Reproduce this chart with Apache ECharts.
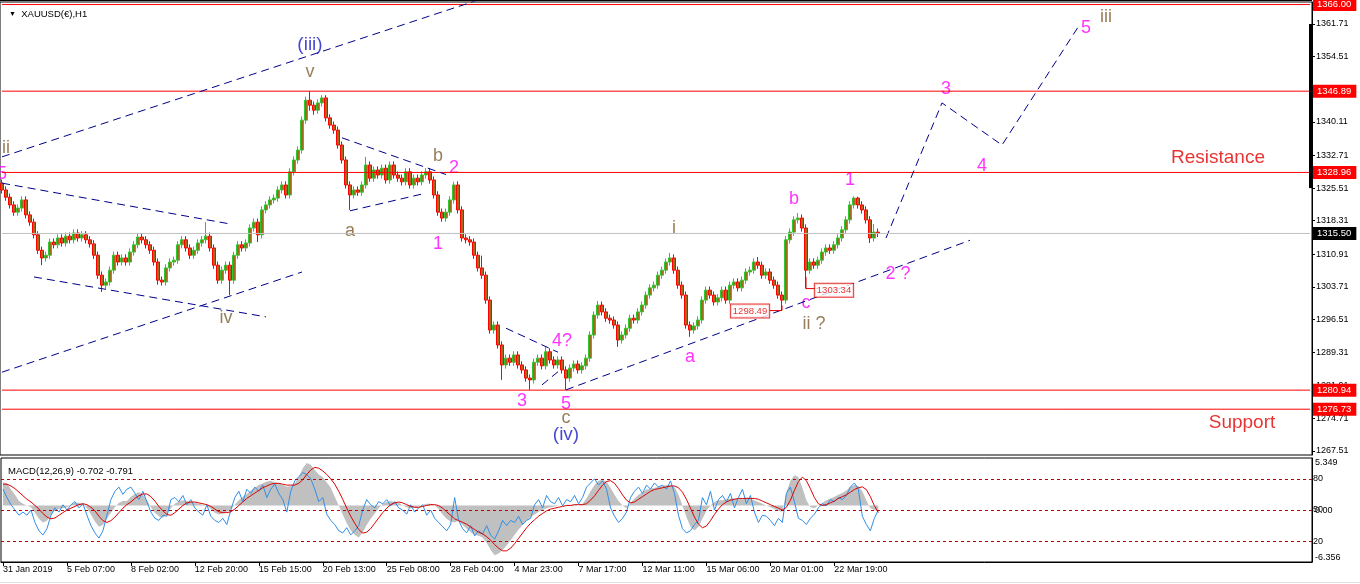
<!DOCTYPE html>
<html><head><meta charset="utf-8">
<script src="https://cdn.jsdelivr.net/npm/echarts@6/dist/echarts.min.js"></script>
<style>html,body{margin:0;padding:0;background:#fff}#c{width:1360px;height:584px}</style>
</head><body><div id="c"></div>
<script>
// ---- price data (one candle per 4 hours), [open, close, low, high]
const ohlc = [
[1326.6,1325.1,1324.3,1327.4],[1325.1,1323.5,1322.7,1325.9],[1323.5,1321.8,1321.0,1324.3],[1321.8,1320.2,1319.4,1322.6],[1320.2,1321.1,1319.4,1321.9],
[1321.1,1322.9,1320.3,1323.7],[1322.9,1319.6,1318.8,1323.7],[1319.6,1318.0,1317.2,1320.4],[1318.0,1315.2,1314.4,1318.8],[1315.2,1311.8,1311.0,1316.0],
[1311.8,1310.1,1308.5,1312.6],[1310.1,1310.7,1309.3,1311.5],[1310.7,1313.6,1309.9,1314.4],[1313.6,1313.0,1312.2,1314.4],[1313.0,1314.5,1312.2,1315.3],
[1314.5,1313.4,1312.6,1315.3],[1313.4,1314.9,1312.6,1315.7],[1314.9,1314.1,1313.3,1315.7],[1314.1,1315.6,1313.3,1316.4],[1315.6,1314.5,1313.7,1316.4],
[1314.5,1315.2,1313.7,1316.0],[1315.2,1314.1,1313.3,1316.0],[1314.1,1313.2,1312.4,1314.9],[1313.2,1310.7,1309.9,1314.0],[1310.7,1306.3,1305.5,1311.5],
[1306.3,1304.1,1302.6,1307.1],[1304.1,1304.8,1303.3,1305.6],[1304.8,1307.4,1304.0,1308.2],[1307.4,1310.7,1306.6,1311.5],[1310.7,1309.2,1308.4,1311.5],
[1309.2,1310.1,1308.4,1310.9],[1310.1,1309.2,1308.4,1310.9],[1309.2,1311.4,1308.4,1312.2],[1311.4,1313.0,1310.6,1313.8],[1313.0,1314.7,1312.2,1315.5],
[1314.7,1314.1,1313.3,1315.5],[1314.1,1313.0,1312.2,1314.9],[1313.0,1311.8,1311.0,1313.8],[1311.8,1309.2,1308.4,1312.6],[1309.2,1305.2,1304.2,1310.0],
[1305.2,1304.8,1304.0,1306.0],[1304.8,1307.9,1304.0,1308.7],[1307.9,1309.2,1307.1,1310.0],[1309.2,1309.6,1308.4,1310.4],[1309.6,1313.0,1308.8,1313.8],
[1313.0,1314.1,1312.2,1314.9],[1314.1,1312.3,1311.5,1314.9],[1312.3,1310.7,1309.9,1313.1],[1310.7,1311.8,1309.9,1312.6],[1311.8,1313.4,1311.0,1314.2],
[1313.4,1314.1,1312.6,1314.9],[1314.1,1314.9,1313.3,1318.0],[1314.9,1312.3,1311.5,1315.7],[1312.3,1308.5,1307.7,1313.1],[1308.5,1305.2,1304.4,1309.3],
[1305.2,1307.4,1304.4,1308.2],[1307.4,1308.5,1306.6,1309.3],[1308.5,1305.2,1301.9,1309.3],[1305.2,1310.7,1304.4,1311.5],[1310.7,1313.0,1309.9,1313.8],
[1313.0,1312.3,1311.5,1313.8],[1312.3,1313.4,1311.5,1314.2],[1313.4,1316.7,1312.6,1317.5],[1316.7,1318.0,1315.9,1318.8],[1318.0,1315.2,1313.6,1318.8],
[1315.2,1320.7,1314.4,1321.5],[1320.7,1321.8,1319.9,1322.6],[1321.8,1322.9,1321.0,1323.7],[1322.9,1323.3,1322.1,1324.1],[1323.3,1325.1,1322.5,1325.9],
[1325.1,1326.2,1324.3,1327.0],[1326.2,1324.0,1323.2,1327.0],[1324.0,1329.1,1323.2,1329.9],[1329.1,1331.7,1328.3,1332.5],[1331.7,1333.9,1330.9,1334.7],
[1333.9,1340.5,1333.1,1341.3],[1340.5,1344.9,1339.7,1345.7],[1344.9,1343.8,1342.6,1346.9],[1343.8,1342.7,1341.7,1344.6],[1342.7,1344.3,1341.9,1345.1],
[1344.3,1345.4,1343.5,1346.0],[1345.4,1341.0,1340.2,1346.0],[1341.0,1339.4,1338.6,1341.8],[1339.4,1338.3,1337.5,1340.2],[1338.3,1335.0,1334.2,1339.1],
[1335.0,1331.7,1330.9,1335.8],[1331.7,1326.2,1325.4,1332.5],[1326.2,1324.0,1320.7,1327.0],[1324.0,1325.1,1323.2,1325.9],[1325.1,1324.6,1323.8,1325.9],
[1324.6,1326.2,1323.8,1327.0],[1326.2,1330.6,1325.4,1332.4],[1330.6,1327.7,1326.9,1331.4],[1327.7,1329.5,1326.9,1330.3],[1329.5,1328.4,1327.6,1330.3],
[1328.4,1329.9,1327.6,1330.7],[1329.9,1327.3,1326.5,1330.7],[1327.3,1330.6,1326.5,1331.4],[1330.6,1328.4,1327.6,1331.4],[1328.4,1327.7,1326.9,1329.2],
[1327.7,1326.9,1326.1,1328.5],[1326.9,1329.1,1326.1,1329.9],[1329.1,1326.2,1325.4,1329.9],[1326.2,1327.7,1325.4,1328.5],[1327.7,1326.9,1326.1,1328.5],
[1326.9,1328.4,1326.1,1329.2],[1328.4,1329.1,1327.6,1329.9],[1329.1,1327.3,1326.5,1329.9],[1327.3,1324.0,1323.2,1328.1],[1324.0,1320.2,1319.4,1324.8],
[1320.2,1318.9,1318.1,1321.0],[1318.9,1320.2,1318.1,1321.0],[1320.2,1322.9,1319.4,1323.7],[1322.9,1326.2,1322.1,1326.9],[1326.2,1320.7,1319.9,1327.0],
[1320.7,1314.5,1313.7,1321.5],[1314.5,1314.1,1313.3,1315.3],[1314.1,1313.6,1312.8,1314.9],[1313.6,1310.7,1309.9,1314.4],[1310.7,1307.9,1307.1,1311.5],
[1307.9,1306.3,1305.5,1310.6],[1306.3,1300.8,1300.0,1307.1],[1300.8,1294.2,1293.4,1301.6],[1294.2,1295.3,1293.4,1296.1],[1295.3,1290.9,1290.1,1296.1],
[1290.9,1286.5,1283.2,1291.7],[1286.5,1288.0,1285.7,1288.8],[1288.0,1287.1,1286.3,1288.8],[1287.1,1288.7,1286.3,1289.5],[1288.7,1286.5,1285.7,1289.5],
[1286.5,1285.4,1284.6,1287.3],[1285.4,1283.6,1282.8,1286.2],[1283.6,1283.2,1281.0,1284.4],[1283.2,1287.1,1282.4,1287.9],[1287.1,1288.0,1286.3,1288.8],
[1288.0,1286.3,1285.5,1288.8],[1286.3,1289.4,1285.5,1290.6],[1289.4,1287.6,1286.8,1290.2],[1287.6,1286.5,1285.7,1288.4],[1286.5,1287.6,1285.7,1288.4],
[1287.6,1285.4,1284.6,1288.4],[1285.4,1283.6,1281.0,1286.2],[1283.6,1285.8,1282.8,1286.6],[1285.8,1286.7,1285.0,1287.5],[1286.7,1285.4,1284.6,1287.5],
[1285.4,1286.3,1284.6,1287.1],[1286.3,1288.0,1285.5,1288.8],[1288.0,1293.1,1287.2,1293.9],[1293.1,1297.5,1292.3,1298.3],[1297.5,1299.7,1296.7,1300.6],
[1299.7,1298.2,1297.4,1300.5],[1298.2,1296.8,1296.0,1299.0],[1296.8,1296.4,1295.6,1297.6],[1296.4,1295.3,1294.5,1297.2],[1295.3,1292.0,1290.5,1296.1],
[1292.0,1293.1,1291.2,1293.9],[1293.1,1294.6,1292.3,1295.4],[1294.6,1296.8,1293.8,1297.6],[1296.8,1296.4,1295.6,1297.6],[1296.4,1298.2,1295.6,1299.0],
[1298.2,1299.7,1297.4,1300.5],[1299.7,1301.9,1298.9,1302.7],[1301.9,1303.5,1301.1,1304.3],[1303.5,1304.1,1302.7,1304.9],[1304.1,1306.3,1303.3,1307.1],
[1306.3,1307.4,1305.5,1308.2],[1307.4,1309.2,1306.6,1310.0],[1309.2,1310.1,1308.4,1311.2],[1310.1,1307.4,1306.6,1310.9],[1307.4,1304.1,1303.3,1308.2],
[1304.1,1301.9,1301.1,1304.9],[1301.9,1295.3,1294.5,1302.7],[1295.3,1294.2,1292.7,1296.1],[1294.2,1295.1,1293.4,1295.9],[1295.1,1296.4,1294.3,1297.2],
[1296.4,1300.8,1295.6,1301.6],[1300.8,1303.0,1300.0,1303.8],[1303.0,1301.9,1301.1,1303.8],[1301.9,1300.4,1299.6,1302.7],[1300.4,1301.3,1299.6,1302.1],
[1301.3,1303.0,1300.5,1303.8],[1303.0,1300.8,1300.0,1303.8],[1300.8,1304.1,1300.0,1304.9],[1304.1,1304.8,1303.3,1305.6],[1304.8,1303.5,1302.7,1305.6],
[1303.5,1305.2,1302.7,1306.0],[1305.2,1307.0,1304.4,1307.8],[1307.0,1307.4,1306.2,1308.2],[1307.4,1309.2,1306.6,1310.0],[1309.2,1308.5,1307.7,1310.3],
[1308.5,1306.3,1305.5,1309.3],[1306.3,1307.0,1305.5,1307.8],[1307.0,1305.2,1304.4,1307.8],[1305.2,1304.1,1303.3,1306.0],[1304.1,1301.9,1301.1,1304.9],
[1301.9,1300.8,1298.49,1302.7],[1300.8,1314.1,1300.0,1314.9],[1314.1,1315.8,1313.3,1316.6],[1315.8,1318.5,1315.0,1319.3],[1318.5,1318.9,1317.7,1320.0],
[1318.9,1316.7,1315.9,1319.7],[1316.7,1307.4,1303.34,1317.5],[1307.4,1309.2,1306.6,1310.0],[1309.2,1308.5,1307.7,1310.0],[1308.5,1309.6,1307.7,1310.4],
[1309.6,1311.4,1308.8,1312.2],[1311.4,1312.3,1310.6,1313.1],[1312.3,1311.8,1311.0,1313.1],[1311.8,1313.0,1311.0,1313.8],[1313.0,1314.5,1312.2,1315.3],
[1314.5,1316.3,1313.7,1317.1],[1316.3,1318.5,1315.5,1319.3],[1318.5,1321.8,1317.7,1322.6],[1321.8,1323.3,1321.0,1323.7],[1323.3,1321.8,1321.0,1323.6],
[1321.8,1320.7,1319.9,1322.6],[1320.7,1318.5,1317.7,1321.5],[1318.5,1314.5,1313.4,1319.3],[1314.5,1315.8,1313.7,1317.6],[1315.8,1315.5,1314.7,1316.6]
];
// ---- MACD(12,26,9) main (grey histogram)
const macdMain = [
2.6,2.5,1.8,1.2,0.5,0.2,0.0,-0.2,-0.8,-1.5,
-1.9,-1.7,-1.0,-0.6,-0.4,-0.3,-0.2,0.1,0.3,0.3,
0.2,-0.3,-1.0,-1.8,-2.4,-2.2,-1.5,-0.8,-0.2,0.3,
0.5,0.5,1.0,1.3,1.5,1.2,0.6,-0.2,-0.8,-1.2,
-1.4,-1.0,-0.3,0.2,0.5,0.6,0.5,0.4,0.3,0.2,
0.1,0.0,-0.4,-0.8,-1.0,-0.9,-0.7,-0.4,0.1,0.6,
1.0,1.3,1.7,2.0,2.3,2.5,2.7,2.8,2.6,2.5,
2.3,2.1,2.2,2.5,3.2,4.2,4.8,4.6,4.0,3.5,
3.2,2.6,2.0,1.0,0.0,-1.0,-2.0,-2.8,-3.3,-3.6,
-3.0,-2.2,-1.5,-0.9,-0.3,0.2,0.4,0.5,0.4,0.3,
0.0,-0.2,-0.3,-0.2,-0.1,0.1,0.2,0.2,0.0,-0.4,
-1.0,-1.5,-1.8,-1.9,-1.7,-2.2,-2.6,-3.0,-3.3,-3.4,
-3.6,-4.2,-5.0,-5.6,-5.4,-5.0,-4.5,-3.9,-3.3,-2.7,
-2.2,-1.7,-1.3,-1.0,-0.7,-0.5,-0.3,-0.2,-0.1,0.0,
0.0,0.1,0.1,0.1,0.0,0.2,0.8,1.6,2.3,2.8,
2.9,2.7,2.0,1.2,0.5,0.0,-0.3,0.3,0.8,1.2,
1.5,1.8,1.9,2.0,2.1,2.2,2.3,2.3,2.1,1.2,
0.0,-1.3,-2.4,-2.8,-2.4,-1.5,-0.6,0.0,0.4,0.6,
0.6,0.7,0.8,0.8,0.7,0.8,0.9,0.8,0.6,0.4,
0.2,0.0,-0.2,-0.4,-0.6,-0.7,1.5,2.8,3.4,3.2,
2.0,0.6,-0.2,-0.3,0.0,0.3,0.6,0.8,1.0,1.2,
1.4,1.7,2.1,2.3,2.2,1.6,0.6,-0.3,-0.5,-0.702
];
// ---- MACD signal (red)
const macdSignal = [
2.4,2.4,2.2,1.9,1.5,1.1,0.7,0.4,0.0,-0.4,
-0.9,-1.3,-1.5,-1.4,-1.1,-0.8,-0.5,-0.3,-0.1,0.1,
0.2,0.1,-0.2,-0.6,-1.2,-1.7,-1.9,-1.7,-1.3,-0.8,
-0.3,0.1,0.4,0.8,1.1,1.3,1.3,1.0,0.5,-0.1,
-0.6,-1.0,-1.1,-0.8,-0.4,0.0,0.3,0.4,0.4,0.3,
0.2,0.1,-0.1,-0.4,-0.7,-0.8,-0.8,-0.7,-0.4,0.0,
0.4,0.8,1.1,1.4,1.7,2.0,2.2,2.4,2.5,2.5,
2.4,2.3,2.3,2.3,2.5,2.9,3.5,4.0,4.3,4.2,
3.9,3.5,3.0,2.4,1.6,0.7,-0.3,-1.2,-2.0,-2.7,
-3.1,-3.0,-2.6,-2.0,-1.4,-0.8,-0.3,0.1,0.3,0.4,
0.3,0.1,-0.1,-0.2,-0.2,-0.1,0.0,0.1,0.1,0.0,
-0.3,-0.7,-1.1,-1.5,-1.7,-1.9,-2.1,-2.4,-2.7,-3.0,
-3.2,-3.5,-3.9,-4.4,-4.8,-5.1,-5.1,-4.8,-4.3,-3.7,
-3.1,-2.5,-2.0,-1.6,-1.2,-0.9,-0.6,-0.4,-0.3,-0.2,
-0.1,0.0,0.0,0.1,0.1,0.1,0.2,0.6,1.1,1.7,
2.3,2.7,2.8,2.5,1.9,1.2,0.6,0.3,0.4,0.7,
1.0,1.3,1.6,1.8,1.9,2.0,2.1,2.2,2.2,2.0,
1.5,0.7,-0.3,-1.3,-2.1,-2.5,-2.3,-1.7,-1.0,-0.4,
0.1,0.4,0.6,0.7,0.8,0.8,0.8,0.8,0.8,0.7,
0.5,0.3,0.1,-0.1,-0.3,-0.5,-0.2,0.6,1.7,2.7,
3.2,2.8,1.9,0.9,0.2,0.0,0.1,0.3,0.5,0.8,
1.0,1.2,1.5,1.8,2.0,2.1,1.8,1.0,0.0,-0.791
];
// ---- oscillator line (blue, 0..100)
const oscLine = [
70,62,55,50,45,48,45,50,38,30,
26,32,45,52,48,55,50,55,58,52,
56,45,35,28,23,30,45,60,68,72,
65,70,72,66,60,68,58,48,42,40,
45,44,60,62,58,64,55,60,52,48,
45,55,44,40,38,42,36,50,62,68,
58,70,66,72,68,74,62,70,75,66,
60,48,68,78,82,86,84,80,70,58,
62,46,40,36,30,28,33,26,30,35,
50,60,55,52,58,56,60,54,58,52,
50,46,55,48,52,55,45,50,42,38,
34,30,36,62,40,32,28,35,25,30,
27,35,26,22,30,40,35,40,38,44,
36,40,42,55,60,52,64,58,56,62,
54,60,58,64,56,62,72,76,80,74,
78,70,52,44,38,42,48,62,68,72,
66,74,70,76,72,74,70,78,66,45,
32,28,30,36,40,62,55,68,50,60,
64,58,66,52,62,70,56,64,48,38,
45,44,40,35,42,38,66,72,58,42,
40,36,42,46,52,56,54,60,58,62,
60,64,72,76,70,44,36,30,42,50
];
// ---- axes / ticks
const slotCount = 328;
const timeTickIndex = [0,16,32,48,64,80,96,112,128,144,160,176,192,208];
const timeTickText = ['31 Jan 2019','5 Feb 07:00','8 Feb 02:00','12 Feb 20:00','15 Feb 15:00','20 Feb 13:00','25 Feb 08:00','28 Feb 04:00','4 Mar 23:00','7 Mar 17:00','12 Mar 11:00','15 Mar 06:00','20 Mar 01:00','22 Mar 19:00'];
const priceTicks = [1267.51,1274.71,1281.91,1289.31,1296.51,1303.71,1310.91,1318.31,1325.51,1332.71,1340.11,1347.31,1354.51,1361.71];
const priceMin = 1266.63, priceMax = 1366.56;
const levelLines = [1366.00,1346.89,1328.96,1280.94,1276.73];
const lastPrice = 1315.50;
const macdTop = 5.349, macdBottom = -6.356;
const oscLevels = [80,50,20];
const scaleBar = [1361.71,1325.51];
// ---- drawn objects (category index, price)
const trendLines = [
  [[0,1332.4],[150,1376.0]],
  [[0,1284.9],[75,1307.0]],
  [[0,1326.6],[57,1317.6]],
  [[8,1305.9],[66,1297.1]],
  [[85,1336.6],[111,1328.5]],
  [[87,1320.5],[106,1324.4]],
  [[126,1294.6],[139,1289.3]],
  [[135,1282.1],[139,1285.0]],
  [[141,1281.0],[242,1314.0]],
  [[221,1314.5],[235,1344.3],[250,1335.0],[269,1361.0]]
];
const waveLabels = [
  ['ii',1,1334.4,'b'],['5',0,1328.6,'m'],['(iii)',77,1357.1,'n'],['v',77,1351.1,'b'],
  ['b',109,1332.6,'b'],['2',113,1329.9,'m'],['a',87,1316.0,'b'],['1',109,1313.2,'m'],
  ['iv',56,1296.8,'b'],['4?',140,1291.8,'m'],['3',130,1278.5,'m'],['5',141,1277.9,'m'],
  ['c',141,1274.8,'b'],['(iv)',141,1271.0,'n'],['i',168,1316.7,'b'],['a',172,1288.2,'m'],
  ['b',198,1323.1,'m'],['c',201,1300.2,'m'],['ii ?',203,1295.5,'b'],['1',212,1327.3,'m'],
  ['2 ?',224,1306.6,'m'],['3',236,1347.4,'m'],['4',245,1330.4,'m'],['5',271,1360.8,'m'],
  ['iii',276,1363.2,'b'],['Resistance',304,1332.1,'r'],['Support',310,1273.7,'r']
];
const priceTags = [['1298.49',187,1298.4],['1303.34',208,1303.0]];
const tagLeaders = [
  [[192,1298.49],[195,1298.49],[195,1299.6]],
  [[201,1305.9],[201,1303.34],[204,1303.34]]
];

const FONT = 'Liberation Sans, Arial, sans-serif';
const kindStyle = {
  m:{color:'#ff00ff',fontSize:18}, b:{color:'#7d5c30',fontSize:18},
  n:{color:'#1818c8',fontSize:19}, r:{color:'#e00000',fontSize:19}
};
const slots = Array.from({length: slotCount}, (_, i) => String(i));
const tickSet = new Set(timeTickIndex);
const tagLabel = (bg) => ({show:true, position:'end', distance:1, formatter:p => p.value.toFixed(2), color:'#fff',
  backgroundColor:bg, padding:[2,5,1,4], fontSize:9.5, fontFamily:FONT, opacity:1});

const series = [];
series.push({
  type:'candlestick', xAxisIndex:0, yAxisIndex:0, barWidth:3,
  data: ohlc,
  itemStyle:{color:'#a06a20', color0:'#a06a20', borderColor:'#2ec82e', borderColor0:'#ff0000', borderWidth:1}
});
// horizontal level lines: each is a flat line across the whole time range
levelLines.forEach(v => series.push({
  type:'line', xAxisIndex:0, yAxisIndex:0, data:[[0, v], [slotCount - 1, v]], symbol:'none', silent:true, z:3,
  lineStyle:{color:'#ff0000', width:1, type:'solid'}
}));
// current price line + the axis price tags (markLine labels with invisible lines)
series.push({
  type:'line', xAxisIndex:0, yAxisIndex:0, data:[[0, lastPrice], [slotCount - 1, lastPrice]], symbol:'none', silent:true, z:4,
  lineStyle:{color:'#c0c0c0', width:1, type:'solid'},
  markLine:{
    silent:true, symbol:['none','none'], animation:false,
    lineStyle:{color:'rgba(0,0,0,0)', width:1},
    data: levelLines.map(v => ({yAxis:v, lineStyle:{color:'rgba(0,0,0,0)'}, label:tagLabel('#ff0000')}))
      .concat([{yAxis:lastPrice, lineStyle:{color:'rgba(0,0,0,0)'}, label:tagLabel('#000')}])
      .concat([[
        {coord:[slotCount-1, scaleBar[0]], lineStyle:{color:'#000', width:3, type:'solid'}, label:{show:false}},
        {coord:[slotCount-1, scaleBar[1]]}
      ]])
  }
});
trendLines.forEach(pts => series.push({
  type:'line', xAxisIndex:0, yAxisIndex:0, data:pts, symbol:'none', silent:true, clip:true,
  lineStyle:{color:'#00008b', width:1, type:[8,5]}
}));
tagLeaders.forEach(pts => series.push({
  type:'line', xAxisIndex:0, yAxisIndex:0, data:pts, symbol:'none', silent:true,
  lineStyle:{color:'#e00000', width:1}
}));
series.push({
  type:'scatter', xAxisIndex:0, yAxisIndex:0, symbolSize:1, silent:true,
  itemStyle:{color:'rgba(0,0,0,0)'},
  data: waveLabels.map(w => ({
    value:[w[1], w[2]],
    label:{show:true, position:'inside', formatter:w[0], fontFamily:FONT,
           color:kindStyle[w[3]].color, fontSize:kindStyle[w[3]].fontSize}
  }))
});
series.push({
  type:'scatter', xAxisIndex:0, yAxisIndex:0, symbolSize:1, silent:true, z:5,
  itemStyle:{color:'rgba(0,0,0,0)'},
  data: priceTags.map(t => ({
    value:[t[1], t[2]],
    label:{show:true, position:'inside', formatter:t[0], fontFamily:FONT, fontSize:9.5,
           color:'#e00000', backgroundColor:'#fff', borderColor:'#e00000', borderWidth:1, padding:[2,2,1,2]}
  }))
});
series.push({
  type:'line', xAxisIndex:1, yAxisIndex:1, data:macdMain, symbol:'none', silent:true,
  lineStyle:{width:0, color:'#c0c0c0'}, areaStyle:{color:'#c0c0c0', opacity:1, origin:0}
});
series.push({
  type:'line', xAxisIndex:1, yAxisIndex:3, data:oscLine, symbol:'none', silent:true,
  lineStyle:{color:'#2f8fe8', width:1},
  markLine:{silent:true, symbol:['none','none'], label:{show:false},
    lineStyle:{color:'#c00000', width:1, type:[3,3]},
    data: oscLevels.map(v => ({yAxis:v}))}
});
series.push({
  type:'line', xAxisIndex:1, yAxisIndex:1, data:macdSignal, symbol:'none', silent:true,
  lineStyle:{color:'#dd0000', width:1}
});

const axisLabelBase = {fontFamily:FONT, fontSize:9, color:'#000'};
const option = {
  animation:false,
  backgroundColor:'#fff',
  title:[
    {text:'{t|▼}  XAUUSD(€),H1', left:4, top:4,
     textStyle:{fontFamily:FONT, fontSize:9.5, fontWeight:'normal', color:'#000', rich:{t:{fontSize:7, color:'#000'}}}},
    {text:'MACD(12,26,9) -0.702 -0.791', left:3, top:461,
     textStyle:{fontFamily:FONT, fontSize:9.5, fontWeight:'normal', color:'#000'}}
  ],
  grid:[
    {left:0, right:48, top:2, height:453, show:true, borderColor:'#000', borderWidth:1, backgroundColor:'transparent'},
    {left:0, right:48, top:458, height:104, show:true, borderColor:'#000', borderWidth:1, backgroundColor:'transparent'}
  ],
  xAxis:[
    {type:'category', gridIndex:0, data:slots, boundaryGap:true, show:false},
    {type:'category', gridIndex:1, data:slots, boundaryGap:true, position:'bottom',
     axisLine:{show:true, onZero:false, lineStyle:{color:'#000'}},
     axisTick:{show:true, alignWithLabel:true, length:4, interval:(i) => tickSet.has(i), lineStyle:{color:'#000'}},
     axisLabel:Object.assign({}, axisLabelBase, {
       interval:(i) => tickSet.has(i), align:'left', margin:3,
       formatter:(v, i) => { const k = timeTickIndex.indexOf(i); return k >= 0 ? timeTickText[k] : ''; }
     }),
     splitLine:{show:false}}
  ],
  yAxis:[
    {type:'value', gridIndex:0, position:'right', min:priceMin, max:priceMax, scale:true,
     axisLine:{show:true, lineStyle:{color:'#000'}},
     axisTick:{show:true, length:3, customValues:priceTicks, lineStyle:{color:'#000'}},
     axisLabel:Object.assign({}, axisLabelBase, {customValues:priceTicks, margin:4, formatter:v => v.toFixed(2)}),
     splitLine:{show:false}},
    {type:'value', gridIndex:1, position:'right', min:macdBottom, max:macdTop,
     axisLine:{show:true, onZero:false, lineStyle:{color:'#000'}},
     axisTick:{show:false},
     axisLabel:Object.assign({}, axisLabelBase, {customValues:[macdTop, 0], margin:3, verticalAlign:'top',
       formatter:v => v === 0 ? '0.00' : String(v)}),
     splitLine:{show:false}},
    {type:'value', gridIndex:1, position:'right', min:macdBottom, max:macdTop,
     axisLine:{show:false}, axisTick:{show:false},
     axisLabel:Object.assign({}, axisLabelBase, {customValues:[macdBottom], margin:3, verticalAlign:'bottom',
       formatter:v => String(v)}),
     splitLine:{show:false}},
    {type:'value', gridIndex:1, position:'right', min:0, max:100,
     axisLine:{show:false}, axisTick:{show:false},
     axisLabel:Object.assign({}, axisLabelBase, {customValues:oscLevels, margin:1, formatter:v => String(v)}),
     splitLine:{show:false}}
  ],
  graphic:[
    {type:'rect', shape:{x:0, y:0, width:1312, height:1}, style:{fill:'#000'}, silent:true},
    {type:'rect', shape:{x:0, y:582, width:1360, height:1}, style:{fill:'#e0e0e0'}, silent:true}
  ],
  series: series
};
const chart = echarts.init(document.getElementById('c'), null, {renderer:'canvas'});
chart.setOption(option);
</script>
</body></html>
